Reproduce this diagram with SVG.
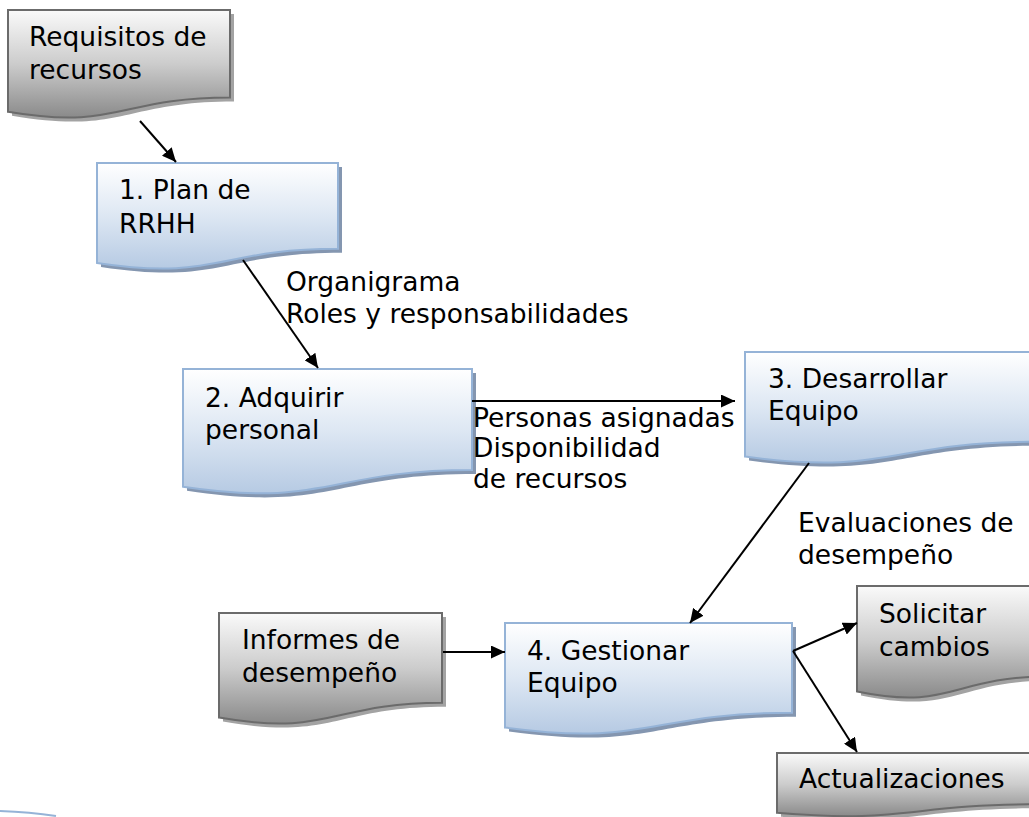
<svg xmlns="http://www.w3.org/2000/svg" width="1029" height="817" viewBox="0 0 1029 817">
<defs>
  <linearGradient id="gGrey" x1="0" y1="0" x2="0" y2="1">
    <stop offset="0" stop-color="#fafafa"/>
    <stop offset="0.5" stop-color="#cccccc"/>
    <stop offset="1" stop-color="#8a8a8a"/>
  </linearGradient>
  <linearGradient id="gBlue" x1="0" y1="0" x2="0" y2="1">
    <stop offset="0" stop-color="#ffffff"/>
    <stop offset="0.5" stop-color="#dde7f3"/>
    <stop offset="1" stop-color="#b6cae3"/>
  </linearGradient>
  <marker id="arr" markerUnits="userSpaceOnUse" markerWidth="15" markerHeight="13" refX="14" refY="6.5" orient="auto">
    <path d="M0,0 L14,6.5 L0,13 Z" fill="#000"/>
  </marker>
</defs>
<style>
  .grey{fill:url(#gGrey);stroke:#6b6b6b;stroke-width:2}
  .gsh{fill:#a3a3a3}
  .blue{fill:url(#gBlue);stroke:#95b3d7;stroke-width:2}
  .bsh{fill:#8496b0}
  text{font-family:"DejaVu Sans","Verdana",sans-serif;font-size:26.5px;fill:#000}
  .c{stroke:#000;stroke-width:2;fill:none;marker-end:url(#arr)}
</style>
<rect width="1029" height="817" fill="#fff"/>
<path d="M0,811 Q30,812 56,816" stroke="#95b3d7" stroke-width="2" fill="none"/>

<g id="n-requisitos">
  <path class="gsh" transform="translate(4,4)" d="M8,10 H230 V97.4 C119,97.4 119,130.7 8,111.8 Z"/>
  <path class="grey" d="M8,10 H230 V97.4 C119,97.4 119,130.7 8,111.8 Z"/>
  <text x="29" y="46">Requisitos de<tspan x="29" y="79">recursos</tspan></text>
</g>
<g id="n-plan">
  <path class="bsh" transform="translate(4,4)" d="M97,163 H338 V248.8 C217.5,248.8 217.5,281.4 97,262.9 Z"/>
  <path class="blue" d="M97,163 H338 V248.8 C217.5,248.8 217.5,281.4 97,262.9 Z"/>
  <text x="119" y="199">1. Plan de<tspan x="119" y="233">RRHH</tspan></text>
</g>
<g id="n-adquirir">
  <path class="bsh" transform="translate(4,4)" d="M183,369 H472 V470 C327.5,470 327.5,508.5 183,486.7 Z"/>
  <path class="blue" d="M183,369 H472 V470 C327.5,470 327.5,508.5 183,486.7 Z"/>
  <text x="205" y="407">2. Adquirir<tspan x="205" y="439">personal</tspan></text>
</g>
<g id="n-desarrollar">
  <path class="bsh" transform="translate(4,4)" d="M745,352 H1035 V441.8 C890,441.8 890,476 745,456.6 Z"/>
  <path class="blue" d="M745,352 H1035 V441.8 C890,441.8 890,476 745,456.6 Z"/>
  <text x="768" y="388">3. Desarrollar<tspan x="768" y="420">Equipo</tspan></text>
</g>
<g id="n-informes">
  <path class="gsh" transform="translate(4,4)" d="M219,613 H442 V702.8 C330.5,702.8 330.5,737 219,717.6 Z"/>
  <path class="grey" d="M219,613 H442 V702.8 C330.5,702.8 330.5,737 219,717.6 Z"/>
  <text x="242" y="649">Informes de<tspan x="242" y="682">desempeño</tspan></text>
</g>
<g id="n-gestionar">
  <path class="bsh" transform="translate(4,4)" d="M505,623 H792 V712.8 C648.5,712.8 648.5,747 505,727.6 Z"/>
  <path class="blue" d="M505,623 H792 V712.8 C648.5,712.8 648.5,747 505,727.6 Z"/>
  <text x="527" y="660">4. Gestionar<tspan x="527" y="692">Equipo</tspan></text>
</g>
<g id="n-solicitar">
  <path class="gsh" transform="translate(4,4)" d="M857,586 H1047 V676.6 C952,676.6 952,711.1 857,691.5 Z"/>
  <path class="grey" d="M857,586 H1047 V676.6 C952,676.6 952,711.1 857,691.5 Z"/>
  <text x="879" y="623">Solicitar<tspan x="879" y="656">cambios</tspan></text>
</g>
<g id="n-actualizaciones">
  <path class="gsh" transform="translate(4,4)" d="M777,753 H1037 V804.3 C907,804.3 907,823.8 777,812.8 Z"/>
  <path class="grey" d="M777,753 H1037 V804.3 C907,804.3 907,823.8 777,812.8 Z"/>
  <text x="799" y="788">Actualizaciones</text>
</g>

<g id="connectors">
  <line class="c" x1="140" y1="121" x2="176" y2="162"/>
  <line class="c" x1="243" y1="260" x2="318" y2="368"/>
  <line class="c" x1="472" y1="401" x2="735" y2="401"/>
  <line class="c" x1="809" y1="463" x2="690" y2="623"/>
  <line class="c" x1="443" y1="652" x2="505" y2="652"/>
  <line class="c" x1="793" y1="651" x2="857" y2="623"/>
  <line class="c" x1="793" y1="651" x2="857" y2="752"/>
</g>

<g id="labels">
  <text x="286" y="291">Organigrama<tspan x="286" y="323">Roles y responsabilidades</tspan></text>
  <text x="473" y="427">Personas asignadas<tspan x="473" y="457">Disponibilidad</tspan><tspan x="473" y="488">de recursos</tspan></text>
  <text x="798" y="532">Evaluaciones de<tspan x="798" y="564">desempeño</tspan></text>
</g>
</svg>
